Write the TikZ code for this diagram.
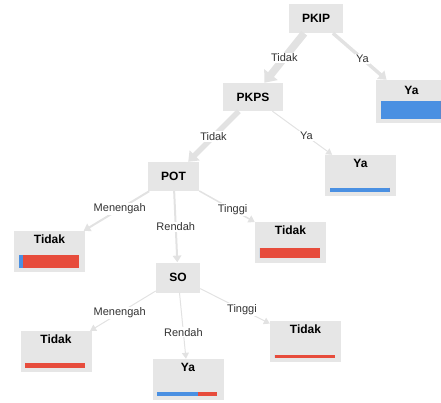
\documentclass[tikz,border=0pt]{standalone}
\usepackage{fontspec}
\setmainfont{Liberation Sans}
\usetikzlibrary{arrows.meta,calc}
\definecolor{boxgray}{RGB}{230,230,230}
\definecolor{edgegray}{RGB}{226,226,226}
\definecolor{barblue}{RGB}{74,144,226}
\definecolor{barred}{RGB}{231,76,60}
\definecolor{labelgray}{RGB}{51,51,51}
\tikzset{
  splitbox/.style={fill=boxgray, inner sep=0pt, font=\fontsize{12}{14}\selectfont\bfseries},
  leafbox/.style={fill=boxgray, inner sep=0pt, minimum width=71pt, text height=12.8pt,
    text depth=28.2pt, font=\fontsize{12}{14}\selectfont\bfseries},
  link/.style={draw=edgegray, line width=#1, -{Triangle[length=5.3pt 0.7, width=5.5pt 1.5]}},
  linklabel/.style={fill=white, inner sep=1pt, text=labelgray, font=\fontsize{11}{13}\selectfont}
}

\begin{document}
\begin{tikzpicture}[x=1pt,y=-1pt]
        \useasboundingbox (0,0) rectangle (441,402);

        % split nodes
        \node[splitbox, minimum width=54pt, minimum height=29pt] (pkip) at (316,18.5) {PKIP};
        \node[splitbox, minimum width=60pt, minimum height=28pt] (pkps) at (253,97) {PKPS};
        \node[splitbox, minimum width=51pt, minimum height=29pt] (pot) at (173.5,176.5) {POT};
        \node[splitbox, minimum width=44pt, minimum height=30pt] (so) at (178,277.5) {SO};

        % leaves
        \node[leafbox, text height=14.3pt, text depth=28.7pt] (yaA) at (411.5,101.5) {Ya};
        \node[leafbox] (yaB) at (360.5,175.5) {Ya};
        \node[leafbox] (tidakT) at (290.5,242) {Tidak};
        \node[leafbox] (tidakM) at (49.5,251.5) {Tidak};
        \node[leafbox] (tidakSM) at (56,351.5) {Tidak};
        \node[leafbox] (yaSR) at (188,379.5) {Ya};
        \node[leafbox] (tidakST) at (305.5,341.5) {Tidak};

        \foreach \n/\b/\h in {yaA/60/18, yaB/60/4, tidakT/0/10, tidakM/4/13,
                              tidakSM/0/5, yaSR/41/4, tidakST/0/3} {
            \fill[barblue] ($(\n.south west)+(5,-4.5)$) rectangle +(\b,-\h);
            \fill[barred] ($(\n.south west)+(5+\b,-4.5)$) rectangle +(60-\b,-\h);
        }

        % edges
        \draw[link=7.5] (pkip) -- node[linklabel, pos=.5] (l1) {Tidak} (pkps);
        \draw[link=3.5] (pkip) -- node[linklabel, pos=.55] (l2) {Ya} (yaA);
        \draw[link=5.5] (pkps) -- node[linklabel, pos=.5] (l3) {Tidak} (pot);
        \draw[link=1] (pkps) -- node[linklabel, pos=.57] (l4) {Ya} (yaB);
        \draw[link=2] (pot) -- node[linklabel, pos=.45] (l5) {Menengah} (tidakM);
        \draw[link=2] (pot) -- node[linklabel, pos=.5] (l6) {Rendah} (so);
        \draw[link=1.5] (pot) -- node[linklabel, pos=.6] (l7) {Tinggi} (tidakT);
        \draw[link=1] (so) -- node[linklabel, pos=.55] (l8) {Menengah} (tidakSM);
        \draw[link=1] (so) -- node[linklabel, pos=.6] (l9) {Rendah} (yaSR);
        \draw[link=1] (so) -- node[linklabel, pos=.6] (l10) {Tinggi} (tidakST);
    \end{tikzpicture}
\end{document}
